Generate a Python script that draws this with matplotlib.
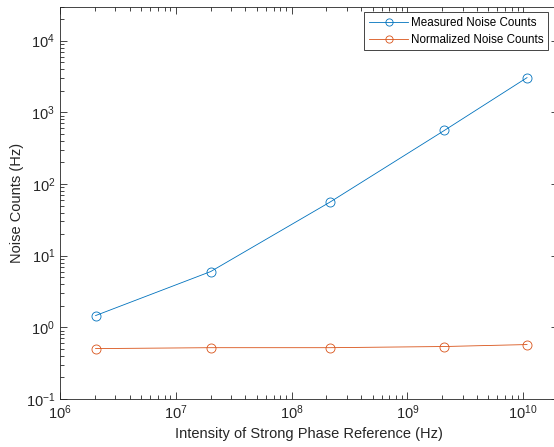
import matplotlib.pyplot as plt
import numpy as np

plt.rcParams['font.family'] = ['Liberation Sans', 'DejaVu Sans']

# data
intensity = [2.03e6, 2.0e7, 2.15e8, 2.09e9, 1.08e10]
measured = [1.46, 6.0, 56, 560, 3050]
normalized = [0.505, 0.52, 0.52, 0.54, 0.575]

blue = '#0072BD'
orange = '#D95319'
axcol = '#262626'

fig = plt.figure(figsize=(5.54, 4.47), dpi=100)
ax = fig.add_axes([60 / 554, 48 / 447, 498 / 554, 392.5 / 447])

ax.plot(intensity, measured, color=blue, lw=0.6, marker='o', ms=6.5,
        mfc='none', mew=0.6, label='Measured Noise Counts')
ax.plot(intensity, normalized, color=orange, lw=0.6, marker='o', ms=6.5,
        mfc='none', mew=0.6, label='Normalized Noise Counts')

ax.set_xscale('log')
ax.set_yscale('log')
ax.set_xlim(1e6, 2e10)
ax.set_ylim(1e-1, 3e4)

ax.tick_params(which='both', direction='in', top=True, right=True,
               colors=axcol, labelsize=10.5, width=0.6)
ax.tick_params(which='major', length=5)
ax.tick_params(which='minor', length=3)
for s in ax.spines.values():
    s.set_color(axcol)
    s.set_linewidth(0.6)

ax.set_xlabel('Intensity of Strong Phase Reference (Hz)', fontsize=10.5,
              color=axcol, labelpad=3)
ax.set_ylabel('Noise Counts (Hz)', fontsize=10.5, color=axcol, labelpad=1)

leg = ax.legend(loc='upper right', bbox_to_anchor=(488 / 498, 0.985),
                fontsize=8.4, fancybox=False, framealpha=1,
                edgecolor=axcol, handlelength=3.4, borderpad=0.4,
                labelspacing=0.4, handletextpad=0.2, borderaxespad=0,
                markerscale=0.8)
leg.get_frame().set_linewidth(0.6)

fig.savefig('out.png', dpi=100)
